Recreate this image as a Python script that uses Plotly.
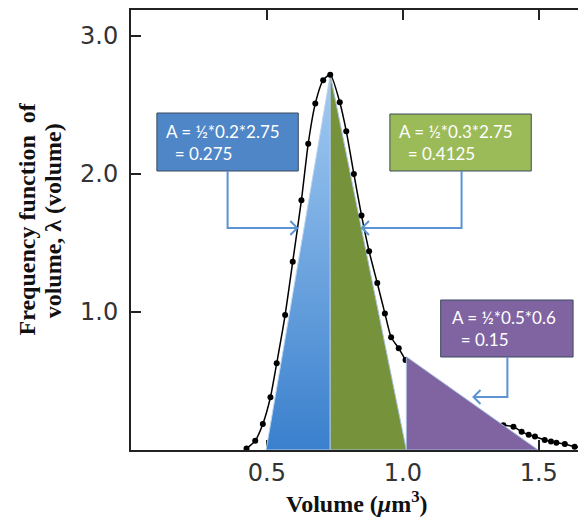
import plotly.graph_objects as go

# ---- data ----
volume = [0.425, 0.457, 0.485, 0.513, 0.536, 0.567, 0.595, 0.627, 0.652, 0.678, 0.707, 0.733,
          0.768, 0.792, 0.82, 0.848, 0.876, 0.906, 0.934, 0.957, 0.985, 1.01, 1.04, 1.07,
          1.10, 1.13, 1.16, 1.19, 1.22, 1.25, 1.28, 1.31, 1.34, 1.37, 1.407, 1.437, 1.463,
          1.486, 1.522, 1.545, 1.565, 1.596, 1.632, 1.663, 1.69]
freq = [0.01, 0.067, 0.188, 0.382, 0.628, 0.978, 1.365, 1.81, 2.22, 2.51, 2.68, 2.72,
        2.52, 2.31, 2.0, 1.70, 1.44, 1.21, 0.99, 0.817, 0.737, 0.652, 0.57, 0.50,
        0.44, 0.39, 0.34, 0.30, 0.27, 0.24, 0.22, 0.20, 0.19, 0.18, 0.169, 0.133, 0.11,
        0.097, 0.072, 0.062, 0.053, 0.043, 0.024, 0.02, 0.015]

blue_tri_x = [0.497, 0.733, 0.733]
blue_tri_y = [0.0, 2.72, 0.0]
green_tri_x = [0.733, 0.733, 1.013]
green_tri_y = [0.0, 2.72, 0.0]
purple_tri_x = [1.013, 1.013, 1.498]
purple_tri_y = [0.0, 0.676, 0.0]

x_ticks = [0.5, 1.0, 1.5]
x_tick_text = ["0.5", "1.0", "1.5"]
y_ticks = [1.0, 2.0, 3.0]
y_tick_text = ["1.0", "2.0", "3.0"]

labels = ["A = ½*0.2*2.75<br>\u00a0\u00a0= 0.275",
          "A = ½*0.3*2.75<br>\u00a0\u00a0= 0.4125",
          "A = ½*0.5*0.6<br>\u00a0\u00a0= 0.15"]

# page body adds an 8px offset; layout numbers below are in screen pixels
OFF = 8
W, H = 586, 525
PL, PT, PB = 131, 10, 450          # plot area on screen (left, top, bottom)
L, T, B = PL - OFF, PT - OFF, H - (PB - OFF)
PW = W - L                          # plot width (right axis lies just past the window)
PH = PB - PT
XS, YS = 273.0, 138.0               # px per data unit
XR = [0, PW / XS]
YR = [0, PH / YS]

def px_x(p):
    return (p - PL) / XS

def px_y(p):
    return (PB - p) / YS

def pap_x(p):
    return (p - PL) / PW

def pap_y(p):
    return (PB - p) / PH

fig = go.Figure()

fig.add_trace(go.Scatter(
    x=blue_tri_x + [blue_tri_x[0]], y=blue_tri_y + [blue_tri_y[0]],
    mode="lines", fill="toself",
    fillgradient=dict(type="vertical", start=0, stop=2.72,
                      colorscale=[[0, "#3a80cd"], [1, "#a3cbf2"]]),
    line=dict(color="#b9d3ef", width=1), hoverinfo="skip", showlegend=False))
fig.add_trace(go.Scatter(
    x=green_tri_x + [green_tri_x[0]], y=green_tri_y + [green_tri_y[0]],
    mode="lines", fill="toself", fillcolor="#76933c",
    line=dict(color="#a7c1de", width=1), hoverinfo="skip", showlegend=False))
fig.add_trace(go.Scatter(
    x=volume, y=freq, mode="lines+markers",
    line=dict(color="black", width=1.5, shape="spline", smoothing=0.6),
    marker=dict(color="black", size=6),
    hoverinfo="skip", showlegend=False))
fig.add_trace(go.Scatter(
    x=purple_tri_x + [purple_tri_x[0]], y=purple_tri_y + [purple_tri_y[0]],
    mode="lines", fill="toself", fillcolor="#8064a2",
    line=dict(color="#a7bfe0", width=1), hoverinfo="skip", showlegend=False))

shapes = []
annotations = []

# boxes on screen: x0, x1, top, bottom, fill
boxes = [(157, 299, 113, 171, "#4f86c7"),
         (391, 533, 114, 171, "#9bbb59"),
         (442, 575, 300, 357, "#8064a2")]
text_left = [164, 398, 451]
# connectors: x of vertical drop, y of elbow, x of arrow head
conns = [(228, 228, 298), (463, 228, 363), (509, 397, 475)]
arrow_col = "#5b93d3"
AH = 7  # arrowhead arm length, px

for (x0, x1, yt, yb, col), tl, lab, (cx, cy, hx) in zip(boxes, text_left, labels, conns):
    shapes.append(dict(type="rect", xref="x", yref="y",
                       x0=px_x(x0), x1=px_x(x1), y0=px_y(yb), y1=px_y(yt),
                       fillcolor=col, line=dict(color="#3a4a5e", width=1), layer="above"))
    annotations.append(dict(x=px_x(tl), y=px_y((yt + yb) / 2), xref="x", yref="y",
                            text=lab, showarrow=False, xanchor="left", yanchor="middle",
                            align="left", font=dict(family="Lato", size=17, color="white")))
    path = "M %f,%f L %f,%f L %f,%f" % (px_x(cx), px_y(yb), px_x(cx), px_y(cy), px_x(hx), px_y(cy))
    shapes.append(dict(type="path", xref="x", yref="y", path=path,
                       line=dict(color=arrow_col, width=2), layer="above"))
    d = AH if hx < cx else -AH
    head = "M %f,%f L %f,%f L %f,%f" % (px_x(hx + d), px_y(cy - AH), px_x(hx), px_y(cy),
                                        px_x(hx + d), px_y(cy + AH))
    shapes.append(dict(type="path", xref="x", yref="y", path=head,
                       line=dict(color=arrow_col, width=2), layer="above"))

title_font = dict(family="Liberation Serif", size=24, color="#111")
annotations.append(dict(x=pap_x(27), y=pap_y(219), xref="paper", yref="paper",
                        text="<b>Frequency function  of</b>", showarrow=False, textangle=-90,
                        xanchor="center", yanchor="middle", font=title_font))
annotations.append(dict(x=pap_x(53), y=pap_y(221), xref="paper", yref="paper",
                        text="<b>volume, λ (volume)</b>", showarrow=False, textangle=-90,
                        xanchor="center", yanchor="middle", font=title_font))
annotations.append(dict(x=pap_x(358), y=pap_y(502), xref="paper", yref="paper",
                        text="<b>Volume (<i>μ</i>m<sup>3</sup>)</b>", showarrow=False,
                        xanchor="center", yanchor="middle",
                        font=dict(family="Liberation Serif", size=24, color="#111")))

tick_font = dict(family="DejaVu Sans", size=24, color="#333")
fig.update_layout(
    width=W, height=H,
    margin=dict(l=L, r=0, t=T, b=B, pad=0),
    paper_bgcolor="white", plot_bgcolor="white",
    shapes=shapes, annotations=annotations,
    xaxis=dict(range=XR, tickvals=x_ticks, ticktext=x_tick_text,
               showgrid=False, zeroline=False, showline=True, linecolor="#222", linewidth=2,
               mirror="ticks", ticks="inside", ticklen=10, tickwidth=2, tickcolor="#222",
               tickfont=tick_font, ticklabelstandoff=0, layer="below traces"),
    yaxis=dict(range=YR, tickvals=y_ticks, ticktext=y_tick_text,
               showgrid=False, zeroline=False, showline=True, linecolor="#222", linewidth=2,
               mirror="ticks", ticks="inside", ticklen=10, tickwidth=2, tickcolor="#222",
               tickfont=tick_font, ticklabelstandoff=6),
)

fig.write_html("out.html")
